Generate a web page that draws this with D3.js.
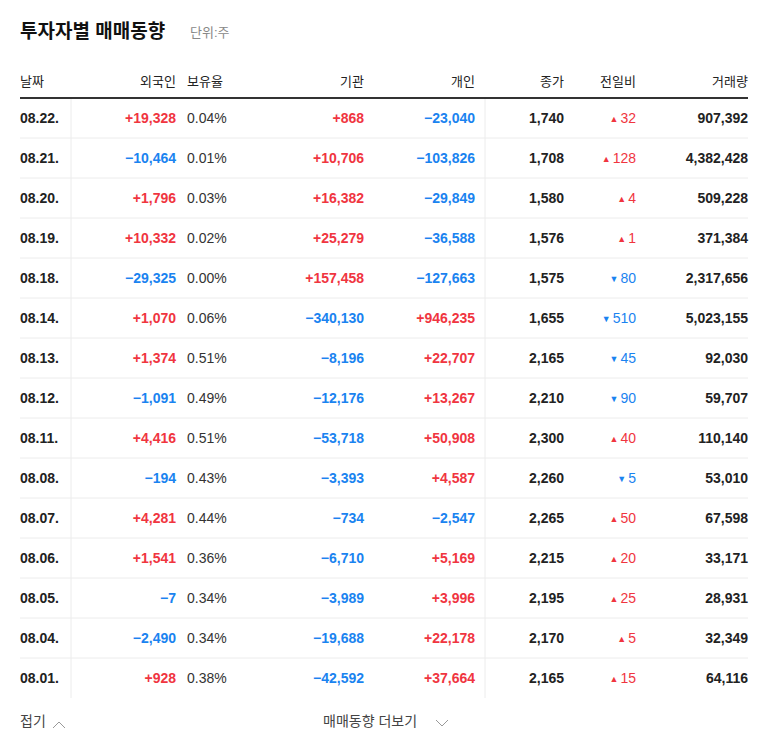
<!DOCTYPE html><html><head><meta charset="utf-8"><script src="https://d3js.org/d3.v7.min.js"></script>
<style>body{margin:0;background:#fff}text{font-family:"Liberation Sans","Noto Sans CJK KR",sans-serif}</style></head><body><svg id="c" width="768" height="749"></svg>
<script>
const dates=["08.22.","08.21.","08.20.","08.19.","08.18.","08.14.","08.13.","08.12.","08.11.","08.08.","08.07.","08.06.","08.05.","08.04.","08.01."];
const foreign=[19328,-10464,1796,10332,-29325,1070,1374,-1091,4416,-194,4281,1541,-7,-2490,928];
const holding=["0.04%","0.01%","0.03%","0.02%","0.00%","0.06%","0.51%","0.49%","0.51%","0.43%","0.44%","0.36%","0.34%","0.34%","0.38%"];
const inst=[868,10706,16382,25279,157458,-340130,-8196,-12176,-53718,-3393,-734,-6710,-3989,-19688,-42592];
const indiv=[-23040,-103826,-29849,-36588,-127663,946235,22707,13267,50908,4587,-2547,5169,3996,22178,37664];
const close=[1740,1708,1580,1576,1575,1655,2165,2210,2300,2260,2265,2215,2195,2170,2165];
const change=[32,128,4,1,-80,-510,-45,-90,40,-5,50,20,25,5,15];
const volume=[907392,4382428,509228,371384,2317656,5023155,92030,59707,110140,53010,67598,33171,28931,32349,64116];
const RED="#f0353f",BLUE="#1a83f0",fmt=d3.format(",");
const svg=d3.select("#c");
const y=d3.scaleBand().domain(dates).range([98,698]);
svg.append("text").attr("x",20).attr("y",38).attr("font-size",19).attr("font-weight","bold").attr("fill","#111").text("투자자별 매매동향");
svg.append("text").attr("x",190).attr("y",37).attr("font-size",13).attr("fill","#888").text("단위:주");
const heads=[["날짜",20,"start"],["외국인",176,"end"],["보유율",187,"start"],["기관",364,"end"],["개인",475,"end"],["종가",564,"end"],["전일비",636,"end"],["거래량",748,"end"]];
svg.selectAll(".h").data(heads).join("text").attr("x",d=>d[1]).attr("y",86).attr("text-anchor",d=>d[2]).attr("font-size",13).attr("fill","#222").text(d=>d[0]);
svg.selectAll(".sep").data(dates.slice(1)).join("line").attr("x1",20).attr("x2",748).attr("y1",d=>y(d)).attr("y2",d=>y(d)).attr("stroke","#ececec");
[71,485].forEach(x=>svg.append("line").attr("x1",x).attr("x2",x).attr("y1",98).attr("y2",698).attr("stroke","#ececec"));
svg.append("line").attr("x1",20).attr("x2",748).attr("y1",98).attr("y2",98).attr("stroke","#333").attr("stroke-width",2);
const g=svg.selectAll(".r").data(dates).join("g").attr("transform",d=>`translate(0,${y(d)+y.bandwidth()/2+5})`);
const sg=v=>v>0?"+"+fmt(v):fmt(v), col=v=>v>0?RED:v<0?BLUE:"#222";
g.append("text").attr("x",20).attr("font-size",14).attr("font-weight","bold").attr("fill","#222").text(d=>d);
g.append("text").attr("x",176).attr("text-anchor","end").attr("font-size",14).attr("font-weight","bold").attr("fill",(d,i)=>col(foreign[i])).text((d,i)=>sg(foreign[i]));
g.append("text").attr("x",187).attr("font-size",14).attr("fill","#333").text((d,i)=>holding[i]);
g.append("text").attr("x",364).attr("text-anchor","end").attr("font-size",14).attr("font-weight","bold").attr("fill",(d,i)=>col(inst[i])).text((d,i)=>sg(inst[i]));
g.append("text").attr("x",475).attr("text-anchor","end").attr("font-size",14).attr("font-weight","bold").attr("fill",(d,i)=>col(indiv[i])).text((d,i)=>sg(indiv[i]));
g.append("text").attr("x",564).attr("text-anchor","end").attr("font-size",14).attr("font-weight","bold").attr("fill","#222").text((d,i)=>fmt(close[i]));
const ch=g.append("text").attr("x",636).attr("text-anchor","end").attr("font-size",14).attr("fill",(d,i)=>col(change[i]));
ch.append("tspan").attr("font-size",9).attr("dy",-1).text((d,i)=>change[i]>0?"▲":"▼");
ch.append("tspan").attr("dy",1).attr("dx",2).text((d,i)=>Math.abs(change[i]));
g.append("text").attr("x",748).attr("text-anchor","end").attr("font-size",14).attr("font-weight","bold").attr("fill","#222").text((d,i)=>fmt(volume[i]));
svg.append("text").attr("x",20).attr("y",726).attr("font-size",14).attr("fill","#444").text("접기");
svg.append("path").attr("d","M53,728 L59,722 L65,728").attr("fill","none").attr("stroke","#999");
svg.append("text").attr("x",323).attr("y",726).attr("font-size",14).attr("fill","#444").text("매매동향 더보기");
svg.append("path").attr("d","M436,720 L442,726 L448,720").attr("fill","none").attr("stroke","#999");
</script></body></html>
